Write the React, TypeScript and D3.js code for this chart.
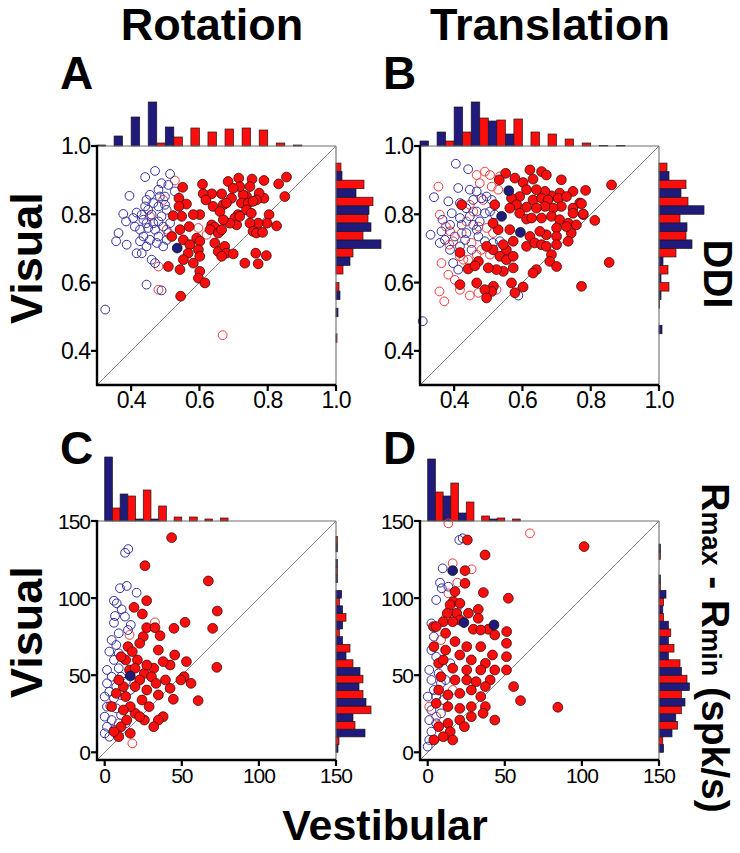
import React from "react";
import * as d3 from "d3";

type P = [number, number];

// ---------- bins & ticks ----------
const ddiBins = [0.3, 0.35, 0.4, 0.45, 0.5, 0.55, 0.6, 0.65, 0.7, 0.75, 0.8, 0.85, 0.9, 0.95];
const respBins = [0, 10, 20, 30, 40, 50, 60, 70, 80, 90, 100, 110, 120, 130, 140];
const ddiTicks = [0.4, 0.6, 0.8, 1.0];
const respTicks = [0, 50, 100, 150];

// ---------- Panel A: Rotation DDI ----------
const rotDdiRedFilled: P[] = [
  [0.855, 0.909], [0.832, 0.889], [0.789, 0.899], [0.754, 0.903], [0.715, 0.906], [0.684, 0.896], [0.609, 0.888], [0.551, 0.879],
  [0.85, 0.852], [0.789, 0.847], [0.775, 0.862], [0.767, 0.842], [0.738, 0.852], [0.728, 0.857], [0.718, 0.881], [0.699, 0.876],
  [0.694, 0.847], [0.665, 0.86], [0.636, 0.86], [0.611, 0.86], [0.619, 0.842], [0.54, 0.847], [0.562, 0.83], [0.54, 0.823],
  [0.64, 0.823], [0.67, 0.828], [0.66, 0.808], [0.679, 0.833], [0.723, 0.833], [0.743, 0.833], [0.757, 0.838], [0.713, 0.799],
  [0.704, 0.789], [0.738, 0.813], [0.752, 0.803], [0.804, 0.799], [0.826, 0.766], [0.798, 0.774], [0.772, 0.774], [0.748, 0.774],
  [0.709, 0.769], [0.689, 0.774], [0.67, 0.784], [0.636, 0.769], [0.645, 0.762], [0.66, 0.75], [0.631, 0.755], [0.601, 0.799],
  [0.582, 0.799], [0.548, 0.794], [0.523, 0.796], [0.543, 0.755], [0.57, 0.764], [0.519, 0.735], [0.553, 0.725], [0.592, 0.73],
  [0.601, 0.721], [0.572, 0.711], [0.567, 0.686], [0.597, 0.696], [0.601, 0.677], [0.582, 0.657], [0.553, 0.667], [0.543, 0.638],
  [0.509, 0.647], [0.601, 0.633], [0.597, 0.613], [0.616, 0.599], [0.655, 0.745], [0.665, 0.755], [0.645, 0.716], [0.655, 0.691],
  [0.674, 0.706], [0.679, 0.686], [0.665, 0.677], [0.699, 0.684], [0.757, 0.75], [0.767, 0.745], [0.785, 0.747], [0.765, 0.686],
  [0.796, 0.679], [0.733, 0.657], [0.772, 0.655], [0.545, 0.56], [0.718, 0.794], [0.748, 0.881],
];
const rotDdiBlueOpen: P[] = [
  [0.47, 0.927], [0.441, 0.909], [0.395, 0.854], [0.514, 0.918], [0.489, 0.891], [0.48, 0.872], [0.455, 0.857], [0.509, 0.886],
  [0.445, 0.842], [0.416, 0.805], [0.431, 0.799], [0.377, 0.801], [0.385, 0.779], [0.411, 0.764], [0.436, 0.784], [0.465, 0.833],
  [0.48, 0.823], [0.499, 0.828], [0.504, 0.813], [0.46, 0.799], [0.45, 0.813], [0.489, 0.794], [0.48, 0.779], [0.494, 0.764],
  [0.47, 0.755], [0.45, 0.76], [0.426, 0.755], [0.436, 0.735], [0.455, 0.725], [0.363, 0.745], [0.356, 0.721], [0.387, 0.711],
  [0.426, 0.721], [0.445, 0.706], [0.48, 0.735], [0.504, 0.725], [0.509, 0.745], [0.416, 0.686], [0.431, 0.686], [0.46, 0.667],
  [0.47, 0.657], [0.406, 0.789], [0.528, 0.867], [0.484, 0.852], [0.465, 0.774], [0.445, 0.774], [0.494, 0.706], [0.445, 0.594],
  [0.489, 0.577], [0.324, 0.521], [0.475, 0.716], [0.514, 0.774], [0.441, 0.823], [0.499, 0.852],
];
const rotDdiRedOpen: P[] = [
  [0.528, 0.899], [0.48, 0.647], [0.48, 0.579], [0.597, 0.76], [0.621, 0.74], [0.668, 0.446], [0.455, 0.794], [0.494, 0.842], [0.504, 0.755],
];
const rotDdiBlueFilled: P[] = [[0.535, 0.701]];
const rotDdiTopBlue = [0.5, 5, 14.5, 22, 9.5, 0, 0, 0, 0, 0, 0, 0, 0, 0];
const rotDdiTopRed = [0, 0, 0, 1.5, 4.5, 9, 7, 8.5, 9, 8, 1.5, 0.5, 0, 0];
const rotDdiRightBlue = [0, 0, 0, 0, 1, 2, 0, 7, 22.5, 17.5, 16.5, 10, 3, 0];
const rotDdiRightRed = [0, 0, 0.5, 0, 0, 1.5, 3.5, 8.5, 13.5, 16, 18.5, 14, 2.5, 0];

// ---------- Panel B: Translation DDI ----------
const traDdiRedFilled: P[] = [
  [0.622, 0.93], [0.656, 0.925], [0.67, 0.915], [0.714, 0.901], [0.551, 0.92], [0.578, 0.906], [0.532, 0.901], [0.602, 0.893],
  [0.631, 0.903], [0.861, 0.886], [0.785, 0.87], [0.748, 0.867], [0.709, 0.862], [0.685, 0.854], [0.666, 0.867], [0.641, 0.872],
  [0.612, 0.872], [0.592, 0.852], [0.568, 0.847], [0.631, 0.842], [0.656, 0.847], [0.675, 0.842], [0.705, 0.847], [0.729, 0.852],
  [0.768, 0.833], [0.748, 0.818], [0.714, 0.823], [0.69, 0.818], [0.666, 0.823], [0.641, 0.818], [0.612, 0.821], [0.583, 0.828],
  [0.563, 0.818], [0.519, 0.828], [0.592, 0.803], [0.612, 0.786], [0.627, 0.789], [0.656, 0.789], [0.685, 0.794], [0.709, 0.784],
  [0.748, 0.803], [0.778, 0.799], [0.812, 0.782], [0.734, 0.774], [0.758, 0.769], [0.743, 0.745], [0.729, 0.764], [0.7, 0.76],
  [0.67, 0.74], [0.7, 0.735], [0.734, 0.721], [0.651, 0.75], [0.622, 0.735], [0.612, 0.706], [0.636, 0.716], [0.656, 0.711],
  [0.67, 0.706], [0.7, 0.711], [0.685, 0.682], [0.68, 0.662], [0.7, 0.647], [0.641, 0.638], [0.631, 0.628], [0.573, 0.721],
  [0.553, 0.696], [0.534, 0.677], [0.553, 0.667], [0.573, 0.643], [0.544, 0.633], [0.524, 0.638], [0.5, 0.643], [0.471, 0.662],
  [0.441, 0.64], [0.417, 0.688], [0.422, 0.828], [0.461, 0.649], [0.568, 0.599], [0.602, 0.587], [0.578, 0.57], [0.515, 0.589],
  [0.51, 0.574], [0.49, 0.579], [0.495, 0.555], [0.466, 0.599], [0.417, 0.594], [0.773, 0.589], [0.854, 0.659], [0.514, 0.696],
  [0.544, 0.711], [0.495, 0.706], [0.573, 0.677], [0.563, 0.755], [0.529, 0.755], [0.514, 0.774], [0.773, 0.831], [0.778, 0.801],
];
const traDdiBlueOpen: P[] = [
  [0.405, 0.948], [0.441, 0.932], [0.341, 0.85], [0.412, 0.877], [0.446, 0.872], [0.466, 0.867], [0.383, 0.838], [0.417, 0.833],
  [0.435, 0.818], [0.456, 0.842], [0.48, 0.847], [0.495, 0.852], [0.51, 0.842], [0.393, 0.803], [0.417, 0.789], [0.446, 0.794],
  [0.466, 0.808], [0.49, 0.803], [0.505, 0.808], [0.519, 0.799], [0.366, 0.784], [0.388, 0.769], [0.422, 0.769], [0.456, 0.769],
  [0.475, 0.779], [0.331, 0.74], [0.358, 0.716], [0.373, 0.725], [0.402, 0.735], [0.436, 0.745], [0.471, 0.735], [0.49, 0.721],
  [0.514, 0.716], [0.534, 0.721], [0.388, 0.696], [0.417, 0.706], [0.451, 0.696], [0.397, 0.657], [0.412, 0.638], [0.308, 0.487],
  [0.588, 0.562], [0.363, 0.75], [0.432, 0.725], [0.466, 0.755],
];
const traDdiRedOpen: P[] = [
  [0.354, 0.881], [0.358, 0.799], [0.376, 0.764], [0.388, 0.75], [0.397, 0.721], [0.417, 0.677], [0.427, 0.667], [0.383, 0.623],
  [0.357, 0.574], [0.371, 0.545], [0.446, 0.562], [0.471, 0.57], [0.49, 0.925], [0.505, 0.915], [0.466, 0.915], [0.475, 0.891],
  [0.51, 0.881], [0.529, 0.872], [0.485, 0.842], [0.446, 0.828], [0.456, 0.808], [0.436, 0.779], [0.471, 0.764], [0.495, 0.76],
  [0.514, 0.745], [0.422, 0.745], [0.451, 0.716], [0.48, 0.696], [0.505, 0.682], [0.466, 0.682], [0.441, 0.667], [0.534, 0.911],
  [0.417, 0.579], [0.402, 0.608], [0.363, 0.657], [0.386, 0.711], [0.524, 0.579],
];
const traDdiBlueFilled: P[] = [[0.56, 0.869], [0.539, 0.794], [0.594, 0.747]];
const traDdiTopBlue = [2.5, 7, 19.5, 22, 12.5, 6, 0, 0, 0, 0, 0, 0, 0, 0];
const traDdiTopRed = [0, 2.5, 7, 14, 13, 13.5, 7, 6, 3.5, 1.5, 0.3, 0.3, 0, 0];
const traDdiRightBlue = [0, 0, 0, 1.5, 0, 1, 1, 2, 16.5, 14, 22.5, 11, 5, 0];
const traDdiRightRed = [0, 0, 0, 0, 0.3, 5, 4.5, 8.5, 13.5, 10.5, 14.5, 13.5, 4, 0];

// ---------- Panel C: Rotation response amplitude ----------
const rotRespRedFilled: P[] = [
  [43.4, 139.2], [26.1, 121], [67.2, 111.1], [27.2, 98.3], [19, 94], [24.4, 89.7], [73, 91.6], [52.1, 84.3], [27.2, 80.8],
  [32.6, 80.8], [44.9, 80.4], [70, 80.4], [25, 75], [35.9, 75.6], [15.1, 68.5], [22.7, 70.7], [34.8, 66.3], [45.4, 63.1],
  [42.4, 56.6], [53, 58.8], [72.7, 55.1], [51.5, 49], [49.4, 46.9], [56, 44.7], [44.5, 34.4], [60.6, 33.5], [31.8, 54.5],
  [25.7, 51.2], [30.3, 49], [33.3, 44.7], [22.7, 46.9], [19.7, 42.6], [27.3, 40.4], [34.8, 37.2], [37.9, 23.1], [34.8, 20.9],
  [31.8, 16.6], [25.7, 20.9], [19.7, 25.3], [16.6, 29.6], [13.6, 36.1], [12.1, 42.6], [9.1, 46.9], [4.5, 29.6], [10.6, 16.6],
  [16.6, 12.3], [9.1, 10.1], [22.7, 23.1], [28.8, 29.6], [24.2, 33.9], [21.2, 59.9], [13.6, 59.9], [10.6, 62], [16.1, 53.4],
  [19.7, 54.5], [7.5, 38.2], [12.1, 27.4], [14.3, 20.9], [6, 13.4], [42.4, 41.5], [39.4, 46.9], [27.3, 56.6], [37.9, 58.8],
  [17.9, 65.3],
];
const rotRespBlueOpen: P[] = [
  [15.3, 131.8], [13.2, 129.4], [9.9, 106.4], [14.3, 107.9], [20.7, 103.5], [6, 98.3], [7.8, 96.6], [11, 92.7], [6.7, 88.4],
  [6, 84], [16.9, 82.6], [13.1, 88], [9.1, 77.2], [4.5, 72.8], [7.5, 69.6], [3, 65.3], [9.1, 64.2], [6, 59.9], [1.5, 53.4],
  [9.1, 54.5], [4.5, 49], [10.6, 49], [1.5, 44.7], [7.5, 42.6], [3, 39.3], [0, 36.1], [6, 35], [10.6, 37.2], [1.5, 29.6],
  [7.5, 28.5], [0, 23.1], [4.5, 20.9], [10.6, 24.2], [1.5, 16.6], [6, 14.5], [0, 12.3], [3, 10.1], [13.6, 18.8], [16.6, 40.4],
  [13.6, 45.8], [15.1, 79.3],
];
const rotRespRedOpen: P[] = [[32.6, 84.3], [16.1, 76.1], [17.9, 5.8], [3.5, 30], [9.1, 18.8]];
const rotRespBlueFilled: P[] = [[16.6, 49.5]];
const rotRespTopBlue = [32, 13.5, 1, 1, 0, 0, 0, 0, 0, 0, 0, 0, 0, 0, 0];
const rotRespTopRed = [6.5, 12.5, 15.5, 7.5, 2, 2, 1, 1.5, 0, 0, 0, 0, 0, 0, 0];
const rotRespRightBlue = [1, 14.5, 8.5, 15, 11.5, 12, 5, 3.3, 3.3, 3.3, 2.8, 0.7, 0.7, 0.7, 0];
const rotRespRightRed = [1.5, 9.5, 17.5, 13.5, 13.5, 8.5, 7, 1.7, 5, 1.7, 0, 0.7, 0, 0.7, 0];

// ---------- Panel D: Translation response amplitude ----------
const traRespRedFilled: P[] = [
  [25.7, 137.7], [37.2, 128], [101.4, 133.4], [24.2, 117.8], [24.2, 109.6], [36.1, 103.6], [52.3, 99.9], [17.7, 104.2],
  [16.6, 97.7], [14.5, 95.6], [20.9, 96.6], [26.4, 90.2], [32.8, 92.7], [32.8, 86.9], [18.8, 90.2], [12.7, 90.2], [10.1, 84.7],
  [20.9, 85.8], [3.7, 81.5], [29.6, 79.8], [39.3, 79.8], [51.2, 78.3], [34.4, 79.3], [51.1, 70.7], [51.1, 62], [43.5, 76.1],
  [42, 63.1], [34.4, 68.5], [25.3, 68.5], [17.7, 71.8], [11.6, 66.3], [20.8, 63.1], [28.3, 59.9], [37.4, 57.7], [43.5, 53.4],
  [34.4, 53.4], [25.3, 53.4], [16.2, 54.5], [7.1, 57.7], [8.6, 49], [17.7, 46.9], [25.3, 46.9], [31.4, 45.8], [40.5, 46.9],
  [37.4, 42.6], [28.3, 40.4], [20.8, 38.2], [13.1, 37.2], [7.1, 40.4], [5.5, 31.7], [13.1, 29.6], [20.8, 28.5], [28.3, 29.6],
  [34.4, 36.1], [37.4, 29.6], [35.9, 25.3], [28.3, 23.1], [20.8, 20.9], [13.1, 18.8], [7.1, 16.6], [14.6, 13.4], [10.1, 10.1],
  [16.2, 8], [4, 8], [23.8, 16.6], [43.5, 20.9], [55.7, 42.6], [60.2, 33.5], [84.4, 29.2], [51.1, 53.4], [5.5, 81.5],
  [11.6, 77.2], [16.2, 84.7], [4, 68.5], [10.1, 59.9],
];
const traRespBlueOpen: P[] = [
  [20.5, 137.7], [22.7, 138.8], [9.7, 119.3], [8, 110], [9.1, 106.4], [13.4, 107.4], [18.8, 93.4], [5.5, 98.8], [2.4, 83.6],
  [4, 75], [2.4, 66.3], [5.5, 62], [1, 53.4], [7.1, 51.2], [2.4, 46.9], [8.6, 44.7], [4, 40.4], [0, 36.1], [5.5, 36.1],
  [10.1, 33.9], [2.4, 27.4], [8.6, 25.3], [1, 20.9], [5.5, 18.8], [2.4, 13.4], [1, 8], [0, 3.7], [11.6, 46.9], [14.6, 57.7],
];
const traRespRedOpen: P[] = [
  [13.4, 148.5], [66.3, 142], [16.2, 122.6], [28.5, 118.7], [19.2, 110], [13.4, 103.1], [1, 29.6], [11.6, 86.9], [8.6, 72.8],
  [16.2, 40.4], [5.5, 23.1],
];
const traRespBlueFilled: P[] = [[16.2, 117.8], [23.5, 84.1], [43, 82.6]];
const traRespTopBlue = [31, 12.5, 4, 0, 1, 0, 0, 0, 0, 0, 0, 0, 0, 0, 0];
const traRespTopRed = [14.5, 19, 9.5, 2.5, 1.5, 1, 0, 0, 0, 0, 0, 0, 0, 0, 0];
const traRespRightBlue = [2.3, 6.5, 8.4, 13, 15.2, 11.2, 4.7, 4.7, 4.7, 1.9, 3.5, 0.7, 0, 0.7, 0];
const traRespRightRed = [1.9, 9.3, 11.2, 11.2, 14, 10.5, 7.5, 5.9, 2.3, 2.3, 0.7, 0, 0.7, 0, 0];

// ---------- styling ----------
const RED = "#ff0d0d";
const BLUE = "#1f1a7c";
const FONT = "Arial, 'Liberation Sans', Helvetica, sans-serif";
const SIZE = 239;

type PanelProps = {
  x0: number;
  y0: number;
  domain: [number, number];
  ticks: number[];
  fmt: (v: number) => string;
  bins: number[];
  binW: number;
  redFilled: P[];
  blueOpen: P[];
  redOpen: P[];
  blueFilled: P[];
  topBlue: number[];
  topRed: number[];
  rightBlue: number[];
  rightRed: number[];
  tickSize: number;
};

function Panel(p: PanelProps) {
  const xs = d3.scaleLinear().domain(p.domain).range([p.x0, p.x0 + SIZE]);
  const ys = d3.scaleLinear().domain(p.domain).range([p.y0 + SIZE, p.y0]);
  const hs = d3.scaleLinear().domain([0, 1]).range([0, 2]);
  const top = p.y0;
  const right = p.x0 + SIZE;
  const bottom = p.y0 + SIZE;
  const half = p.binW / 2;
  const barStroke = "#1a1a1a";

  return (
    <g>
      {p.bins.map((b, i) => (
        <g key={"t" + i}>
          {p.topBlue[i] > 0 && (
            <rect x={xs(b)} width={xs(b + half) - xs(b)} y={top - hs(p.topBlue[i])} height={hs(p.topBlue[i])}
              fill={BLUE} stroke={barStroke} strokeWidth={0.7} />
          )}
          {p.topRed[i] > 0 && (
            <rect x={xs(b + half)} width={xs(b + p.binW) - xs(b + half)} y={top - hs(p.topRed[i])} height={hs(p.topRed[i])}
              fill={RED} stroke={barStroke} strokeWidth={0.7} />
          )}
        </g>
      ))}
      {p.bins.map((b, i) => (
        <g key={"r" + i}>
          {p.rightBlue[i] > 0 && (
            <rect x={right} width={hs(p.rightBlue[i])} y={ys(b + half)} height={ys(b) - ys(b + half)}
              fill={BLUE} stroke={barStroke} strokeWidth={0.7} />
          )}
          {p.rightRed[i] > 0 && (
            <rect x={right} width={hs(p.rightRed[i])} y={ys(b + p.binW)} height={ys(b + half) - ys(b + p.binW)}
              fill={RED} stroke={barStroke} strokeWidth={0.7} />
          )}
        </g>
      ))}
      <line x1={p.x0} y1={top} x2={right} y2={top} stroke="#6e6e6e" strokeWidth={1.1} />
      <line x1={right} y1={top} x2={right} y2={bottom} stroke="#6e6e6e" strokeWidth={1.1} />
      <line x1={xs(p.domain[0])} y1={ys(p.domain[0])} x2={xs(p.domain[1])} y2={ys(p.domain[1])} stroke="#777" strokeWidth={0.9} />
      {p.redOpen.map((d, i) => (
        <circle key={"ro" + i} cx={xs(d[0])} cy={ys(d[1])} r={4.4} fill="none" stroke="#f23a3a" strokeWidth={1} />
      ))}
      {p.blueOpen.map((d, i) => (
        <circle key={"bo" + i} cx={xs(d[0])} cy={ys(d[1])} r={4.4} fill="none" stroke="#3431a0" strokeWidth={1} />
      ))}
      {p.redFilled.map((d, i) => (
        <circle key={"rf" + i} cx={xs(d[0])} cy={ys(d[1])} r={4.9} fill={RED} stroke="#3a0a0a" strokeWidth={0.8} />
      ))}
      {p.blueFilled.map((d, i) => (
        <circle key={"bf" + i} cx={xs(d[0])} cy={ys(d[1])} r={4.9} fill={BLUE} stroke="#111" strokeWidth={0.8} />
      ))}
      <line x1={p.x0} y1={top - 1} x2={p.x0} y2={bottom + 1} stroke="#000" strokeWidth={2.4} />
      <line x1={p.x0 - 1} y1={bottom} x2={right} y2={bottom} stroke="#000" strokeWidth={2.4} />
      {p.ticks.map((t) => (
        <g key={"yt" + t}>
          <line x1={p.x0 - 6} x2={p.x0} y1={ys(t)} y2={ys(t)} stroke="#000" strokeWidth={2.2} />
          <text x={p.x0 - 7} y={ys(t)} dy="0.36em" textAnchor="end" fontSize={p.tickSize} letterSpacing={-1}
            fontFamily={FONT}>{p.fmt(t)}</text>
        </g>
      ))}
      {p.ticks.map((t) => (
        <g key={"xt" + t}>
          <line x1={xs(t)} x2={xs(t)} y1={bottom} y2={bottom + 6} stroke="#000" strokeWidth={2.2} />
          <text x={xs(t)} y={bottom + 23} textAnchor="middle" fontSize={p.tickSize} letterSpacing={-1}
            fontFamily={FONT}>{p.fmt(t)}</text>
        </g>
      ))}
    </g>
  );
}

export default function App() {
  const f1 = d3.format(".1f");
  const f0 = d3.format("d");
  return (
    <svg width={740} height={853} style={{ position: "absolute", left: 0, top: 0, background: "#fff" }}
      fontFamily={FONT}>
      <rect x={0} y={0} width={740} height={853} fill="#fff" />
      <text x={212} y={40} fontSize={45} fontWeight="bold" textAnchor="middle">Rotation</text>
      <text x={550} y={40} fontSize={45} fontWeight="bold" textAnchor="middle">Translation</text>
      <text x={60} y={89} fontSize={46} fontWeight="bold">A</text>
      <text x={383} y={89} fontSize={46} fontWeight="bold">B</text>
      <text x={60} y={464} fontSize={46} fontWeight="bold">C</text>
      <text x={383} y={464} fontSize={46} fontWeight="bold">D</text>
      <text transform="translate(42,258) rotate(-90)" fontSize={45} fontWeight="bold" textAnchor="middle">Visual</text>
      <text transform="translate(42,632) rotate(-90)" fontSize={45} fontWeight="bold" textAnchor="middle">Visual</text>
      <text transform="translate(704,274) rotate(90)" fontSize={40} fontWeight="bold" textAnchor="middle">DDI</text>
      <text transform="translate(702,648) rotate(90)" fontSize={39} fontWeight="bold" textAnchor="middle">
        R<tspan fontSize={27}>max</tspan> - R<tspan fontSize={27}>min</tspan> (spk/s)
      </text>
      <text x={385} y={840} fontSize={43} fontWeight="bold" textAnchor="middle">Vestibular</text>

      <Panel x0={97} y0={146} domain={[0.3, 1.0]} ticks={ddiTicks} fmt={f1} bins={ddiBins} binW={0.05}
        redFilled={rotDdiRedFilled} blueOpen={rotDdiBlueOpen} redOpen={rotDdiRedOpen} blueFilled={rotDdiBlueFilled}
        topBlue={rotDdiTopBlue} topRed={rotDdiTopRed} rightBlue={rotDdiRightBlue} rightRed={rotDdiRightRed} tickSize={23} />
      <Panel x0={420} y0={146} domain={[0.3, 1.0]} ticks={ddiTicks} fmt={f1} bins={ddiBins} binW={0.05}
        redFilled={traDdiRedFilled} blueOpen={traDdiBlueOpen} redOpen={traDdiRedOpen} blueFilled={traDdiBlueFilled}
        topBlue={traDdiTopBlue} topRed={traDdiTopRed} rightBlue={traDdiRightBlue} rightRed={traDdiRightRed} tickSize={23} />
      <Panel x0={97} y0={521} domain={[-5, 150]} ticks={respTicks} fmt={f0} bins={respBins} binW={10}
        redFilled={rotRespRedFilled} blueOpen={rotRespBlueOpen} redOpen={rotRespRedOpen} blueFilled={rotRespBlueFilled}
        topBlue={rotRespTopBlue} topRed={rotRespTopRed} rightBlue={rotRespRightBlue} rightRed={rotRespRightRed} tickSize={21} />
      <Panel x0={420} y0={521} domain={[-5, 150]} ticks={respTicks} fmt={f0} bins={respBins} binW={10}
        redFilled={traRespRedFilled} blueOpen={traRespBlueOpen} redOpen={traRespRedOpen} blueFilled={traRespBlueFilled}
        topBlue={traRespTopBlue} topRed={traRespTopRed} rightBlue={traRespRightBlue} rightRed={traRespRightRed} tickSize={21} />
    </svg>
  );
}
